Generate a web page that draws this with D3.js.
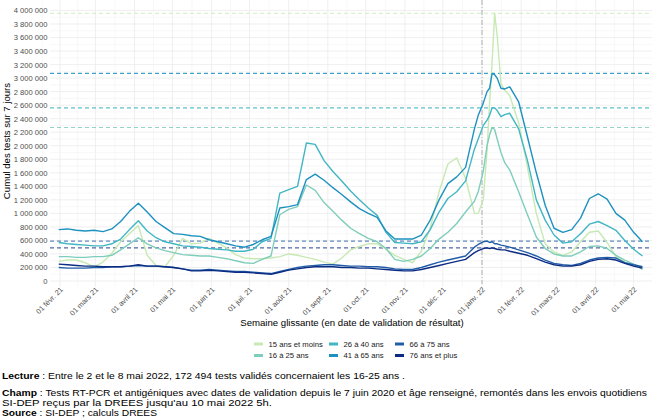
<!DOCTYPE html>
<html><head><meta charset="utf-8">
<script src="https://cdn.jsdelivr.net/npm/d3@7"></script>
<style>
body{margin:0;background:#fff}
svg{display:block}
text{font-family:"Liberation Sans",Arial,Helvetica,sans-serif}
</style>
</head><body>
<svg id="chart" width="652" height="420"></svg>
<script>
// ---- DATA (values in thousands of tests, rolling 7-day sum) ----
const dates = ["2021-01-31","2021-02-07","2021-02-14","2021-02-21","2021-02-28","2021-03-07","2021-03-14","2021-03-21","2021-03-28","2021-04-04","2021-04-11","2021-04-18","2021-04-25","2021-05-02","2021-05-09","2021-05-16","2021-05-23","2021-05-30","2021-06-06","2021-06-13","2021-06-20","2021-06-27","2021-07-04","2021-07-11","2021-07-18","2021-07-25","2021-08-01","2021-08-08","2021-08-15","2021-08-22","2021-08-29","2021-09-05","2021-09-12","2021-09-19","2021-09-26","2021-10-03","2021-10-10","2021-10-17","2021-10-24","2021-10-31","2021-11-07","2021-11-14","2021-11-21","2021-11-28","2021-12-05","2021-12-12","2021-12-19","2021-12-26","2021-12-29","2022-01-02","2022-01-05","2022-01-07","2022-01-09","2022-01-11","2022-01-13","2022-01-16","2022-01-19","2022-01-23","2022-01-30","2022-02-06","2022-02-13","2022-02-20","2022-02-27","2022-03-06","2022-03-13","2022-03-20","2022-03-27","2022-04-03","2022-04-10","2022-04-17","2022-04-24","2022-05-01","2022-05-08"];

const age15moins = [290,310,310,270,210,280,410,580,700,820,380,230,210,380,630,550,560,630,560,490,390,340,330,330,340,360,400,380,350,320,280,250,340,460,510,550,550,470,380,320,270,440,780,1320,1730,1820,1520,1000,1000,1200,1930,2630,3240,3960,3630,2920,2820,2740,2340,1680,1000,550,430,380,430,580,720,740,570,360,280,240,210];
const age16_25 = [360,360,350,350,360,360,380,460,550,640,550,490,450,420,390,380,370,370,350,330,300,270,260,320,370,980,1060,1100,1420,1340,1160,1030,900,780,700,630,580,480,320,290,320,370,480,620,720,850,1020,1180,1320,1620,2000,2160,2270,2240,2100,1900,1750,1640,1320,980,650,480,400,370,370,430,510,520,480,380,310,250,172];
const age26_40 = [570,550,540,530,520,520,550,620,760,890,740,640,580,550,520,510,500,480,470,460,440,440,470,580,630,1300,1350,1400,2040,2020,1780,1620,1480,1330,1200,1080,970,720,570,560,550,580,760,1020,1220,1320,1480,1950,2100,2300,2380,2450,2560,2560,2520,2430,2460,2480,2250,1780,1200,900,680,560,580,700,840,880,820,750,600,470,370];
const age41_65 = [760,770,750,740,750,730,770,880,1030,1150,1020,880,790,700,690,670,660,610,580,550,520,500,540,610,660,1080,1100,1130,1500,1580,1490,1380,1280,1170,1070,1000,940,740,620,620,620,680,900,1200,1440,1540,1680,2250,2450,2630,2800,2850,3070,3050,3000,2850,2840,2870,2650,2130,1600,1120,780,720,760,930,1220,1290,1210,1000,900,720,580];
const age66_75 = [200,190,190,190,200,200,210,210,220,230,220,220,210,200,180,160,160,170,160,150,140,140,130,120,110,140,170,200,220,230,240,240,230,220,220,210,210,200,180,170,170,200,240,280,310,340,370,500,540,580,590,570,580,550,550,530,520,500,460,420,370,310,260,240,230,260,310,340,350,340,270,240,210];
const age76plus = [250,240,230,220,220,210,210,210,220,240,220,220,210,200,180,150,150,160,150,140,130,130,120,110,100,130,160,180,200,210,210,210,200,200,190,190,180,170,160,150,150,170,200,230,260,290,320,420,450,480,490,480,490,480,470,460,460,440,410,380,330,280,240,220,220,240,290,320,330,310,260,220,190];

const seriesNames = ["15 ans et moins","16 à 25 ans","26 à 40 ans","41 à 65 ans","66 à 75 ans","76 ans et plus"];
const seriesColors = ["#c7e9b4","#7fcdbb","#41b6c4","#1d91c0","#225ea8","#0c2c84"];
const seriesValues = [age15moins, age16_25, age26_40, age41_65, age66_75, age76plus];

const xTickDates = ["2021-02-01","2021-03-01","2021-04-01","2021-05-01","2021-06-01","2021-07-01","2021-08-01","2021-09-01","2021-10-01","2021-11-01","2021-12-01","2022-01-01","2022-02-01","2022-03-01","2022-04-01","2022-05-01"];
const xTickLabels = ["01 févr. 21","01 mars 21","01 avril 21","01 mai 21","01 juin 21","01 juil. 21","01 août 21","01 sept. 21","01 oct. 21","01 nov. 21","01 déc. 21","01 janv. 22","01 févr. 22","01 mars 22","01 avril 22","01 mai 22"];
const yTickValues = d3.range(0, 4001, 200); // thousands
const markerDate = "2022-01-01";

const footerLines = [
  {b:"Lecture", t:" : Entre le 2 et le 8 mai 2022, 172 494 tests validés concernaient les 16-25 ans .", y:379, w:403},
  {b:"Champ", t:" : Tests RT-PCR et antigéniques avec dates de validation depuis  le 7 juin 2020 et âge renseigné, remontés dans les envois  quotidiens", y:396, w:645},
  {b:"", t:"SI-DEP reçus par la DREES jusqu'au 10 mai 2022 5h.", y:406, w:270},
  {b:"Source", t:" : SI-DEP ; calculs DREES", y:416, w:155}
];

// ---- CHART ----
const parse = d3.timeParse("%Y-%m-%d");
const svg = d3.select("#chart");
const panel = {left:50, right:652, top:0, bottom:287};

const x = d3.scaleTime().domain([parse("2021-02-01"), parse("2022-01-01")]).range([60, 482]);
const y = d3.scaleLinear().domain([0, 4000]).range([281, 10.5]);

// minor grid
const tickDates = xTickDates.map(parse);
const minorX = [];
for (let i = 0; i < tickDates.length - 1; i++) minorX.push(new Date((tickDates[i].getTime() + tickDates[i+1].getTime())/2));
minorX.push(new Date(tickDates[tickDates.length-1].getTime() + 15*864e5));
minorX.unshift(new Date(tickDates[0].getTime() - 14*864e5));
const minorY = yTickValues.slice(0, -1).map(v => v + 100);

const grid = svg.append("g");
grid.selectAll(".mgy").data(minorY).join("line")
  .attr("x1", panel.left).attr("x2", panel.right)
  .attr("y1", d => y(d)).attr("y2", d => y(d))
  .attr("stroke", "#f3f3f3").attr("stroke-width", 0.6);
grid.selectAll(".mgx").data(minorX).join("line")
  .attr("x1", d => x(d)).attr("x2", d => x(d))
  .attr("y1", panel.top).attr("y2", panel.bottom)
  .attr("stroke", "#f3f3f3").attr("stroke-width", 0.6);
grid.selectAll(".gy").data(yTickValues).join("line")
  .attr("x1", panel.left).attr("x2", panel.right)
  .attr("y1", d => y(d)).attr("y2", d => y(d))
  .attr("stroke", "#ebebeb").attr("stroke-width", 0.8);
grid.selectAll(".gx").data(tickDates).join("line")
  .attr("x1", d => x(d)).attr("x2", d => x(d))
  .attr("y1", panel.top).attr("y2", panel.bottom)
  .attr("stroke", "#ebebeb").attr("stroke-width", 0.8);

// y axis
const fmt = v => d3.format(",")(v * 1000).replace(/,/g, " ");
const yAxis = svg.append("g").attr("transform", "translate(50.5,0)")
  .call(d3.axisLeft(y).tickValues(yTickValues).tickSize(0).tickPadding(3).tickFormat(fmt));
yAxis.select(".domain").remove();
yAxis.selectAll("text").attr("font-size", "7.6px").attr("fill", "#4d4d4d")
  .attr("font-family", '"Liberation Sans",Arial,sans-serif');

// x axis
const xAxis = svg.append("g").attr("transform", "translate(0,284)")
  .call(d3.axisBottom(x).tickValues(tickDates).tickSize(0).tickFormat((d, i) => xTickLabels[i]));
xAxis.select(".domain").remove();
xAxis.selectAll("text")
  .attr("font-size", "7.4px").attr("fill", "#4d4d4d")
  .attr("font-family", '"Liberation Sans",Arial,sans-serif')
  .attr("text-anchor", "end")
  .attr("dy", null).attr("y", 0)
  .attr("transform", "translate(3,6) rotate(-45)");

// max dashed lines
seriesValues.forEach((vals, i) => {
  const m = d3.max(vals);
  svg.append("line")
    .attr("x1", panel.left).attr("x2", panel.right)
    .attr("y1", y(m)).attr("y2", y(m))
    .attr("stroke", seriesColors[i]).attr("stroke-width", i >= 4 ? 1.3 : 1.1)
    .attr("stroke-dasharray", "4,3").attr("opacity", i >= 4 ? 0.7 : 0.85);
});

// vertical marker
svg.append("line")
  .attr("x1", x(parse(markerDate))).attr("x2", x(parse(markerDate)))
  .attr("y1", panel.top).attr("y2", 284)
  .attr("stroke", "#a0a0a0").attr("stroke-width", 0.8)
  .attr("stroke-dasharray", "5,2,1,2");

// series lines
const dParsed = dates.map(parse);
const line = d3.line().x((d, i) => x(dParsed[i])).y(d => y(d)).curve(d3.curveLinear);
seriesValues.forEach((vals, i) => {
  svg.append("path").datum(vals)
    .attr("d", line)
    .attr("fill", "none")
    .attr("stroke", seriesColors[i])
    .attr("stroke-width", 1.4)
    .attr("stroke-linejoin", "round");
});

// axis titles
svg.append("text").attr("x", 352).attr("y", 326).attr("text-anchor", "middle")
  .attr("font-size", "9.6px").attr("fill", "#000")
  .text("Semaine glissante (en date de validation de résultat)");
svg.append("text").attr("transform", "translate(9.5,141) rotate(-90)").attr("text-anchor", "middle")
  .attr("font-size", "9.6px").attr("fill", "#000")
  .text("Cumul des tests sur 7 jours");

// legend
const legPos = [[254,344],[254,355.5],[329,344],[329,355.5],[395,344],[395,355.5]];
const leg = svg.append("g");
seriesNames.forEach((n, i) => {
  const [lx, ly] = legPos[i];
  leg.append("line").attr("x1", lx).attr("x2", lx + 9).attr("y1", ly).attr("y2", ly)
    .attr("stroke", seriesColors[i]).attr("stroke-width", 3);
  leg.append("text").attr("x", lx + 14.5).attr("y", ly + 2.8)
    .attr("font-size", "7.7px").attr("fill", "#1a1a1a").text(n);
});

// footer
footerLines.forEach(f => {
  const t = svg.append("text").attr("x", 2).attr("y", f.y).attr("font-size", "8.6px").attr("fill", "#000")
    .attr("textLength", f.w).attr("lengthAdjust", "spacingAndGlyphs");
  if (f.b) t.append("tspan").attr("font-weight", "bold").text(f.b);
  t.append("tspan").text(f.t);
});
</script>
</body></html>
